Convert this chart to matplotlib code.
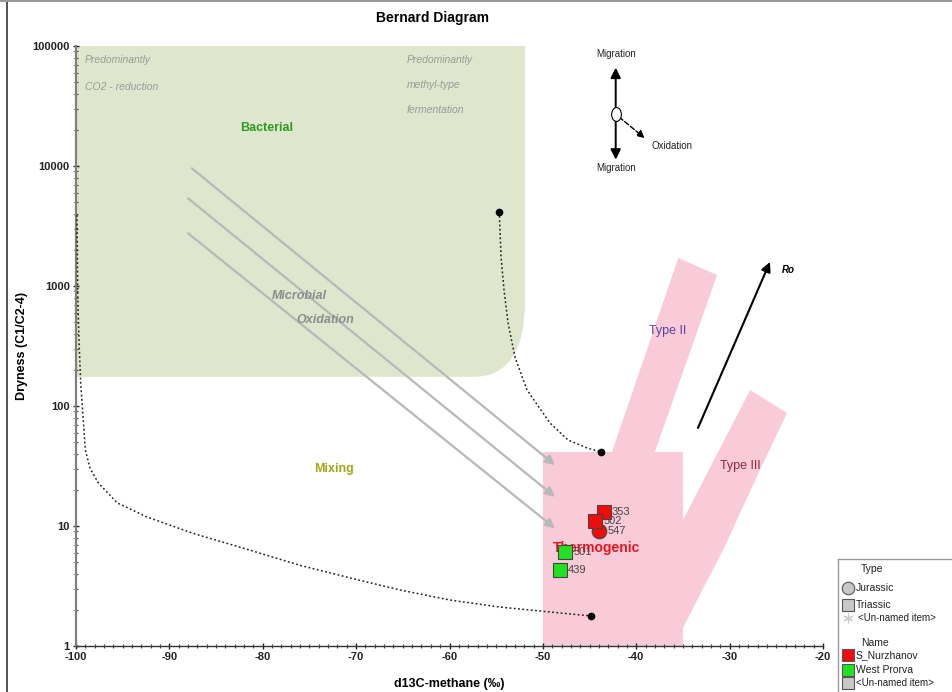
import matplotlib.pyplot as plt
import matplotlib.ticker as ticker
from matplotlib.path import Path
from matplotlib.patches import PathPatch, Polygon
from matplotlib.lines import Line2D
from matplotlib.transforms import Affine2D

plt.rcParams["font.family"] = ["Liberation Sans", "DejaVu Sans"]
plt.rcParams["axes.unicode_minus"] = False

# --- Samples (drawing order) ---
SAMPLE_IDS   = ["547", "353", "502", "501", "439"]
SAMPLE_D13C  = [-44.0, -43.5, -44.4, -47.6, -48.2]
SAMPLE_DRY   = [9.0, 13.2, 11.1, 6.1, 4.3]
SAMPLE_FIELD = ["S_Nurzhanov", "S_Nurzhanov", "S_Nurzhanov", "West Prorva", "West Prorva"]
SAMPLE_AGE   = ["Jurassic", "Triassic", "Triassic", "Triassic", "Triassic"]

FIELD_COLORS = {"S_Nurzhanov": "#ee0c0c", "West Prorva": "#22e022"}
AGE_MARKERS  = {"Jurassic": "o", "Triassic": "s"}

# --- Mixing curves ---
MIX_A_D13C = [-99.9, -99.8, -99.68, -99.5, -99.0, -98.5, -97.6, -95.6, -92.4, -87.5,
              -81.4, -76.0, -70.7, -65.3, -60.0, -54.6, -49.2, -44.85]
MIX_A_DRY  = [3900, 764, 355, 156, 43, 30.4, 22.8, 15.6, 11.9, 8.7,
              6.3, 4.7, 3.7, 2.93, 2.42, 2.11, 1.92, 1.78]
MIX_B_D13C = [-54.67, -54.48, -54.16, -53.73, -52.99, -51.7, -49.24, -47.31, -45.27, -43.81]
MIX_B_DRY  = [4160, 1745, 926, 492, 256, 136, 72.2, 52.1, 44.7, 41.6]

# --- Microbial oxidation trends (start, end) ---
OXI_START_D13C = [-87.6, -88.0, -88.0]
OXI_START_DRY  = [9570, 5380, 2750]
OXI_END_D13C   = [-48.7, -48.7, -48.7]
OXI_END_DRY    = [32.2, 17.5, 9.57]

# --- Genetic fields ---
BAC_RIGHT, BAC_BOTTOM = -51.9, 175
BAC_CORNER_D13C, BAC_CORNER_DRY = -57.45, 764

THERMO_D13C = [-50.0, -50.0, -42.6, -35.5, -31.35, -38.0, -35.0, -35.0,
               -27.8, -23.85, -26.75, -30.7, -33.2, -35.0, -35.0]
THERMO_DRY  = [1, 41.4, 41.4, 1711, 1235, 41.4, 41.4, 11.2,
               136, 87.5, 29.3, 6.3, 2.66, 1.41, 1]

fig = plt.figure(figsize=(9.53, 6.92), dpi=100)
ax = fig.add_axes([76 / 953, 46 / 692, 747 / 953, 600 / 692])
ax.set_yscale("log")
ax.set_xlim(-100, -20)
ax.set_ylim(1, 100000)

# bacterial field with a rounded lower-right corner
verts = [(-100, 1e5), (BAC_RIGHT, 1e5), (BAC_RIGHT, BAC_CORNER_DRY),
         (BAC_RIGHT, BAC_BOTTOM), (BAC_CORNER_D13C, BAC_BOTTOM),
         (-100, BAC_BOTTOM), (-100, 1e5)]
codes = [Path.MOVETO, Path.LINETO, Path.LINETO, Path.CURVE3, Path.CURVE3,
         Path.LINETO, Path.CLOSEPOLY]
ax.add_patch(PathPatch(Path(verts, codes), facecolor="#dee6cd", edgecolor="none", zorder=1))

ax.add_patch(Polygon(list(zip(THERMO_D13C, THERMO_DRY)), closed=True,
                     facecolor="#f9cbd9", edgecolor="none", zorder=1))

# oxidation trend arrows
for x0, y0, x1, y1 in zip(OXI_START_D13C, OXI_START_DRY, OXI_END_D13C, OXI_END_DRY):
    ax.annotate("", xy=(x1, y1), xytext=(x0, y0),
                arrowprops=dict(arrowstyle="-|>", color="#b8b8b8", lw=1.6,
                                mutation_scale=14, shrinkA=0, shrinkB=0), zorder=2)

# mixing lines
ax.plot(MIX_A_D13C, MIX_A_DRY, ls=(0, (1.2, 1.6)), color="#222222", lw=1.1, zorder=3)
ax.plot(MIX_A_D13C[-1:], MIX_A_DRY[-1:], "o", color="black", ms=4.5, zorder=3)
ax.plot(MIX_B_D13C, MIX_B_DRY, ls=(0, (1.2, 1.6)), color="#222222", lw=1.1, zorder=3)
ax.plot([MIX_B_D13C[0], MIX_B_D13C[-1]], [MIX_B_DRY[0], MIX_B_DRY[-1]], "o",
        color="black", ms=4.5, zorder=3)

# Ro arrow
ax.annotate("", xy=(-25.68, 1585), xytext=(-33.39, 65.6),
            arrowprops=dict(arrowstyle="-|>", color="black", lw=1.5,
                            mutation_scale=14, shrinkA=0, shrinkB=0), zorder=3)
ax.text(-24.4, 1360, "Ro", fontsize=7, fontstyle="italic", fontweight="bold", va="center")

# migration / oxidation glyph
mig_x, mig_y = -42.2, 27000
for tip in [(mig_x, 66000), (mig_x, 11300)]:
    ax.annotate("", xy=tip, xytext=(mig_x, mig_y),
                arrowprops=dict(arrowstyle="-|>", color="black", lw=1.4,
                                mutation_scale=15, shrinkA=4, shrinkB=0), zorder=3)
ax.annotate("", xy=(-39.1, 17100), xytext=(mig_x, mig_y),
            arrowprops=dict(arrowstyle="-|>", color="black", lw=1.0, ls="--",
                            mutation_scale=11, shrinkA=3, shrinkB=0), zorder=3)
oval = Path.unit_circle().transformed(Affine2D().scale(0.7, 1.0))
ax.plot([mig_x], [mig_y], marker=oval, ms=10, mfc="white", mec="black", mew=0.8, zorder=4)
ax.text(mig_x, 86000, "Migration", fontsize=7, ha="center", va="center", color="#222222")
ax.text(mig_x, 9600, "Migration", fontsize=7, ha="center", va="center", color="#222222")
ax.text(-36.2, 14700, "Oxidation", fontsize=7, ha="center", va="center", color="#222222")

# field labels
ax.text(-79.6, 20700, "Bacterial", fontsize=9, fontweight="bold", color="#2e9a1e",
        ha="center", va="center", zorder=5)
ax.text(-72.4, 29.9, "Mixing", fontsize=9, fontweight="bold", color="#a5a518",
        ha="center", va="center", zorder=5)
ax.text(-36.6, 421, "Type II", fontsize=9, color="#5b3f9e", ha="center", va="center", zorder=5)
ax.text(-28.9, 31.6, "Type III", fontsize=9, color="#8b2b3b", ha="center", va="center", zorder=5)
ax.text(-44.3, 6.55, "Thermogenic", fontsize=10, fontweight="bold", color="#e8141e",
        ha="center", va="center", zorder=5)
ax.text(-76.1, 826, "Microbial", fontsize=9, fontweight="bold", fontstyle="italic",
        color="#8c8c8c", ha="center", va="center", zorder=5)
ax.text(-73.3, 521, "Oxidation", fontsize=9, fontweight="bold", fontstyle="italic",
        color="#8c8c8c", ha="center", va="center", zorder=5)
ax.text(-99.05, 84000, "Predominantly\n\nCO2 - reduction", fontsize=7.5, fontstyle="italic",
        color="#9a9a9a", ha="left", va="top", linespacing=1.45, zorder=5)
ax.text(-64.55, 84000, "Predominantly\n\nmethyl-type\n\nfermentation", fontsize=7.5,
        fontstyle="italic", color="#9a9a9a", ha="left", va="top", linespacing=1.3, zorder=5)

# samples
for sid, x, y, field, age in zip(SAMPLE_IDS, SAMPLE_D13C, SAMPLE_DRY, SAMPLE_FIELD, SAMPLE_AGE):
    ax.plot([x], [y], marker=AGE_MARKERS[age], ms=10.5, mfc=FIELD_COLORS[field],
            mec="#444444", mew=0.8, zorder=7)
    ax.annotate(sid, (x, y), xytext=(6, 0), textcoords="offset points",
                fontsize=8, color="#444444", va="center", zorder=6)

# axes styling
for side in ["top", "right"]:
    ax.spines[side].set_visible(False)
ax.spines["left"].set_color("#808080")
ax.spines["left"].set_linewidth(1.6)
ax.spines["bottom"].set_color("#333333")
ax.spines["bottom"].set_linewidth(1.0)

ax.xaxis.set_major_locator(ticker.MultipleLocator(10))
ax.xaxis.set_minor_locator(ticker.MultipleLocator(1))
ax.yaxis.set_major_locator(ticker.LogLocator(base=10, numticks=10))
ax.yaxis.set_minor_locator(ticker.LogLocator(base=10, subs=range(2, 10), numticks=10))
ax.yaxis.set_major_formatter(ticker.FuncFormatter(lambda v, _: f"{v:.0f}"))
ax.yaxis.set_minor_formatter(ticker.NullFormatter())
ax.tick_params(which="major", direction="inout", length=5, width=1, color="#222222",
               labelsize=8, pad=2)
ax.tick_params(which="minor", direction="inout", length=3, width=0.8, color="#444444")
for lbl in ax.get_xticklabels() + ax.get_yticklabels():
    lbl.set_fontweight("bold")
    lbl.set_color("#222222")

ax.set_xlabel("d13C-methane (\u2030)", fontsize=9, fontweight="bold", labelpad=11)
ax.set_ylabel("Dryness (C1/C2-4)", fontsize=9, fontweight="bold", labelpad=3)
fig.text(433 / 953, 1 - 18 / 692, "Bernard Diagram", fontsize=10, fontweight="bold",
         ha="center", va="center")

# figure frame
fig.add_artist(Line2D([7 / 953, 7 / 953], [0, 1], color="#333333", lw=1.2))
fig.add_artist(Line2D([0, 1], [1 - 1 / 692, 1 - 1 / 692], color="#999999", lw=1.5))

# legend panel (clipped at the figure edge)
lg = fig.add_axes([838 / 953, 0, 115 / 953, 133 / 692])
lg.set_xlim(0, 115)
lg.set_ylim(133, 0)
lg.set_xticks([])
lg.set_yticks([])
for side in ["right", "bottom"]:
    lg.spines[side].set_visible(False)
for side in ["left", "top"]:
    lg.spines[side].set_color("#999999")
    lg.spines[side].set_linewidth(1.0)

lg.text(23, 10, "Type", fontsize=7.5, va="center", color="#222222")
lg.plot([10], [29], "o", ms=9, mfc="#c8c8c8", mec="#555555", mew=0.8)
lg.text(18, 29, "Jurassic", fontsize=7.5, va="center", color="#222222")
lg.plot([10], [46], "s", ms=8.5, mfc="#c8c8c8", mec="#555555", mew=0.8)
lg.text(18, 46, "Triassic", fontsize=7.5, va="center", color="#222222")
lg.plot([10], [59], marker=(6, 2, 0), ms=7, color="#c8c8c8", mew=0.8)
lg.text(20, 59, "<Un-named item>", fontsize=7, va="center", color="#222222")
lg.text(23, 84, "Name", fontsize=7.5, va="center", color="#222222")
for yy, name, col in [(96, "S_Nurzhanov", FIELD_COLORS["S_Nurzhanov"]),
                      (111, "West Prorva", FIELD_COLORS["West Prorva"]),
                      (124, "<Un-named item>", "#c8c8c8")]:
    lg.plot([10], [yy], "s", ms=8.5, mfc=col, mec="#555555", mew=0.8)
    lg.text(18, yy, name, fontsize=7.5 if name[0] != "<" else 7, va="center", color="#222222")

fig.savefig("out.png", dpi=100)
